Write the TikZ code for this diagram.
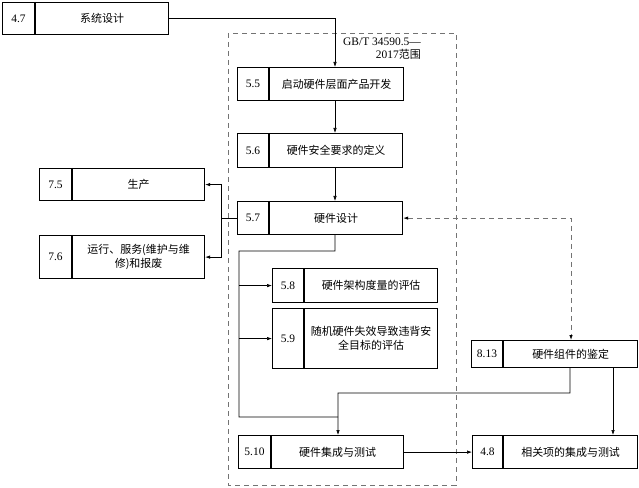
\documentclass[tikz,border=0pt]{standalone}
\usepackage{fontspec}
\setmainfont{Liberation Serif}
\newfontfamily\cjk{Noto Sans CJK SC}
\usetikzlibrary{calc,arrows.meta}
\newcommand{\secbox}[8]{%
  \node[boxst, minimum width=#4bp, minimum height=#5bp] (#1) at (#2,#3) {};
  \draw[boxline] ([xshift=#6bp]#1.north west) -- ([xshift=#6bp]#1.south west);
  \node[numst] (#1n) at ($(#1.west)+(#6/2,0)$) {#7};
  \node[txtst] (#1t) at ($([xshift=#6bp]#1.west)!0.5!(#1.east)$) {#8};
}
\begin{document}
\begin{tikzpicture}[x=1bp,y=-1bp,
  boxst/.style={draw, line width=1.2pt, inner sep=0pt, anchor=north west},
  boxline/.style={line width=1.2pt},
  numst/.style={font=\fontsize{11.5}{13}\selectfont, inner sep=0pt},
  txtst/.style={font=\cjk\fontsize{11}{14}\selectfont, align=center, inner sep=0pt},
  conn/.style={line width=0.6pt, -{Latex[length=5bp,width=3.5bp]}},
  plainline/.style={line width=0.6pt},
  dashline/.style={line width=0.8pt, black!55, dash pattern=on 5bp off 4bp},
  arrowboth/.style={{Latex[length=5bp,width=3.5bp,black]}-{Latex[length=5bp,width=3.5bp,black]}}
]
\useasboundingbox (0,0) rectangle (639,488);
% range frame
\draw[dashline] (228,33) rectangle (456,485);
\node[font=\fontsize{11.5}{12.5}\selectfont, align=right, inner sep=0pt, anchor=north east] (rng) at (421,38)
  {GB/T 34590.5—\\ 2017{\cjk\fontsize{11}{12.5}\selectfont 范围}};
% boxes
\secbox{b47}{2}{2}{166}{32}{33}{4.7}{系统设计}
\secbox{b55}{237}{67}{166}{33}{32}{5.5}{启动硬件层面产品开发}
\secbox{b56}{237}{133}{165}{34}{32}{5.6}{硬件安全要求的定义}
\secbox{b57}{237}{201}{165}{33}{32}{5.7}{硬件设计}
\secbox{b75}{39}{168}{165}{32}{33}{7.5}{生产}
\secbox{b76}{39}{235}{165}{43}{33}{7.6}{运行、服务(维护与维\\修)和报废}
\secbox{b58}{272}{268}{165}{34}{32}{5.8}{硬件架构度量的评估}
\secbox{b59}{272}{308}{165}{60}{32}{5.9}{随机硬件失效导致违背安\\全目标的评估}
\secbox{b813}{471}{340}{166}{27}{32}{8.13}{硬件组件的鉴定}
\secbox{b510}{238}{435}{165}{33}{33}{5.10}{硬件集成与测试}
\secbox{b48}{472}{435}{165}{33}{31}{4.8}{相关项的集成与测试}
% connectors
\draw[conn] (b47.east) -| ([xshift=98bp]b55.north west);
\draw[conn] ([xshift=98bp]b55.south west) -- ([xshift=98bp]b56.north west);
\draw[conn] ([xshift=98bp]b56.south west) -- ([xshift=98bp]b57.north west);
\coordinate (j1) at ($(b57.west)+(-16,0)$);
\draw[plainline] (b57.west) -- (j1);
\draw[conn] (j1) |- (b75.east);
\draw[conn] (j1) |- (b76.east);
\coordinate (k1) at (335,251);
\coordinate (k2) at (239,251);
\coordinate (k3) at (239,417);
\coordinate (k4) at (338,417);
\draw[plainline] ([xshift=98bp]b57.south west) -- (k1) -- (k2) -- (k3) -- (k4);
\draw[conn] (k2 |- b58.west) -- (b58.west);
\draw[conn] (k2 |- b59.west) -- (b59.west);
\coordinate (m2) at (338,393);
\draw[conn] ([xshift=99bp]b813.south west) |- (m2) -- ([xshift=100bp]b510.north west);
\draw[conn] ([xshift=142bp]b813.south west) -- ([xshift=141bp]b48.north west);
\draw[conn] (b510.east) -- (b48.west);
\draw[dashline, arrowboth] (b57.east) -| ([xshift=100bp]b813.north west);
\end{tikzpicture}
\end{document}
